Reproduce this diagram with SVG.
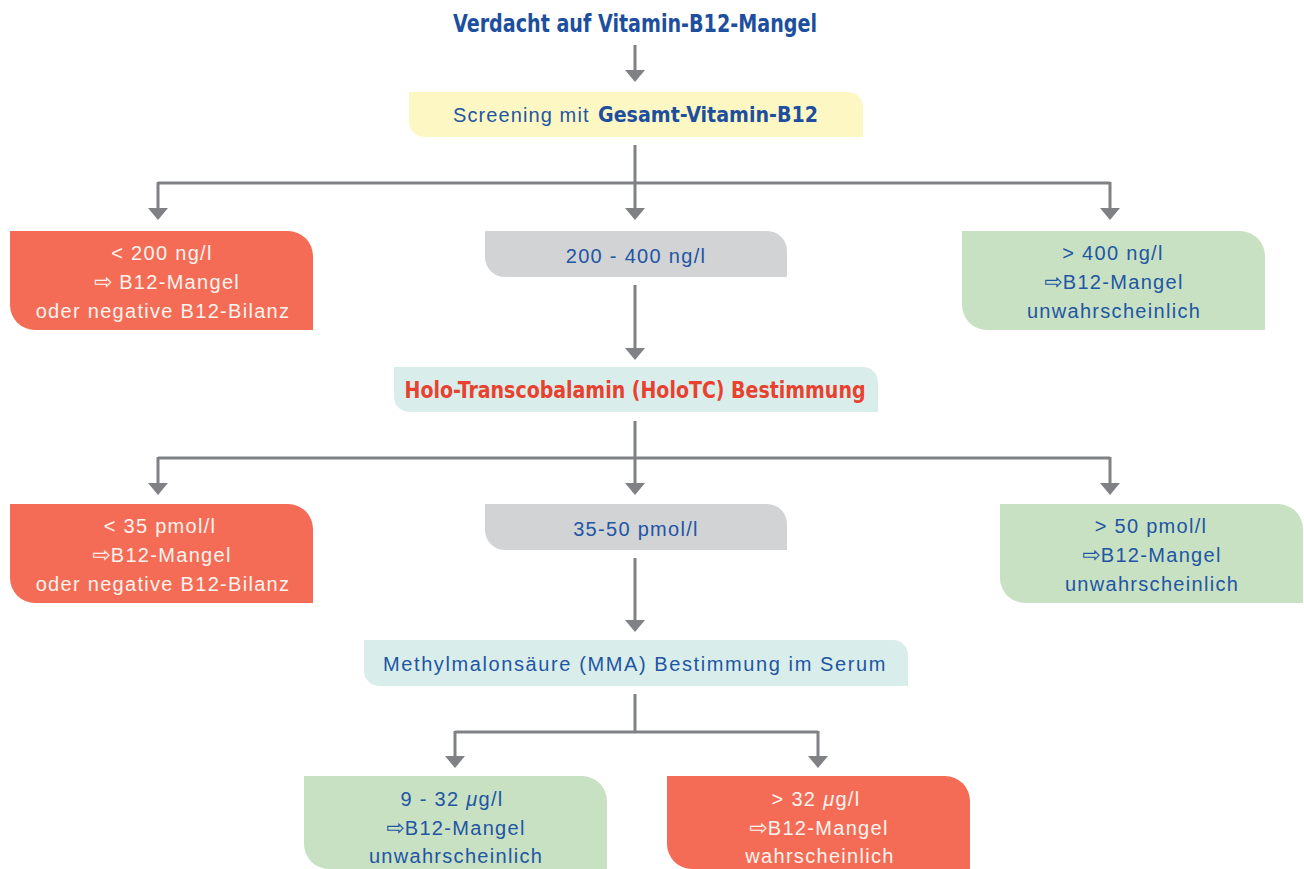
<svg xmlns="http://www.w3.org/2000/svg" width="1304" height="869" viewBox="0 0 1304 869">
<defs>
<style>
.t{font-family:"Liberation Sans",Arial,sans-serif;font-size:20px;letter-spacing:1.3px;text-anchor:middle}
.ar{font-family:"DejaVu Sans",sans-serif;font-size:22px;letter-spacing:0}
.b{font-family:"DejaVu Sans Condensed","DejaVu Sans",sans-serif;font-weight:bold}
.blue{fill:#2255a4}
.wh{fill:#fdf3ef}
.red{fill:#f46c55}
.grn{fill:#c8e1c3}
.gry{fill:#d1d3d5}
.yel{fill:#fdf8c3}
.tea{fill:#d9eeeb}
.ln{fill:none;stroke:#808184;stroke-width:3}
.hd{fill:#808184}
</style>
</defs>

<g id="connectors">
<path class="ln" d="M635 45 V72"/>
<path class="hd" d="M625 70 H645 L635 82 Z"/>
<path class="ln" d="M635 145 V183 M158 183 H1110 M158 182 V209 M635 183 V209 M1110 182 V209"/>
<path class="hd" d="M148 208 H168 L158 220 Z M625 208 H645 L635 220 Z M1100 208 H1120 L1110 220 Z"/>
<path class="ln" d="M635 285 V349"/>
<path class="hd" d="M625 348 H645 L635 360 Z"/>
<path class="ln" d="M635 421 V458 M158 458 H1110 M158 457 V484 M635 458 V484 M1110 457 V484"/>
<path class="hd" d="M148 483 H168 L158 495 Z M625 483 H645 L635 495 Z M1100 483 H1120 L1110 495 Z"/>
<path class="ln" d="M635 558 V621"/>
<path class="hd" d="M625 620 H645 L635 632 Z"/>
<path class="ln" d="M635 694 V732 M455 732 H818 M455 731 V757 M818 731 V757"/>
<path class="hd" d="M445 756 H465 L455 768 Z M808 756 H828 L818 768 Z"/>
</g>

<g id="title">
<text class="b" x="635" y="32" font-size="24" text-anchor="middle" fill="#1d4f9e" textLength="364" lengthAdjust="spacingAndGlyphs">Verdacht auf Vitamin-B12-Mangel</text>
</g>

<g id="screening">
<path class="yel" d="M409 92 H848 A15 15 0 0 1 863 107 V137 H424 A15 15 0 0 1 409 122 Z"/>
<text class="blue" y="122" font-family="Liberation Sans,Arial,sans-serif" font-size="20" letter-spacing="1.1"><tspan x="453">Screening mit</tspan><tspan class="b" x="598" font-size="22" fill="#1d4f9e" letter-spacing="0" textLength="220" lengthAdjust="spacingAndGlyphs">Gesamt-Vitamin-B12</tspan></text>
</g>

<g id="n200low">
<path class="red" d="M10 231 H288 A25 25 0 0 1 313 256 V330 H35 A25 25 0 0 1 10 305 Z"/>
<text class="t wh" x="162" y="260">&lt; 200 ng/l</text>
<text class="t wh" x="167" y="289"><tspan class="ar">⇨</tspan> B12-Mangel</text>
<text class="t wh" x="163" y="318">oder negative B12-Bilanz</text>
</g>

<g id="n200mid">
<path class="gry" d="M485 231 H767 A20 20 0 0 1 787 251 V277 H505 A20 20 0 0 1 485 257 Z"/>
<text class="t blue" x="636" y="263">200 - 400 ng/l</text>
</g>

<g id="n400high">
<path class="grn" d="M962 231 H1240 A25 25 0 0 1 1265 256 V330 H987 A25 25 0 0 1 962 305 Z"/>
<text class="t blue" x="1113" y="260">&gt; 400 ng/l</text>
<text class="t blue" x="1114" y="289"><tspan class="ar">⇨</tspan>B12-Mangel</text>
<text class="t blue" x="1114" y="318">unwahrscheinlich</text>
</g>

<g id="holotc">
<path class="tea" d="M394 367 H863 A15 15 0 0 1 878 382 V412 H409 A15 15 0 0 1 394 397 Z"/>
<text class="b" x="635" y="398" font-size="23" text-anchor="middle" fill="#e8412f" textLength="461" lengthAdjust="spacingAndGlyphs">Holo-Transcobalamin (HoloTC) Bestimmung</text>
</g>

<g id="n35low">
<path class="red" d="M10 504 H288 A25 25 0 0 1 313 529 V603 H35 A25 25 0 0 1 10 578 Z"/>
<text class="t wh" x="160" y="533">&lt; 35 pmol/l</text>
<text class="t wh" x="162" y="562"><tspan class="ar">⇨</tspan>B12-Mangel</text>
<text class="t wh" x="163" y="591">oder negative B12-Bilanz</text>
</g>

<g id="n35mid">
<path class="gry" d="M485 504 H767 A20 20 0 0 1 787 524 V550 H505 A20 20 0 0 1 485 530 Z"/>
<text class="t blue" x="636" y="536">35-50 pmol/l</text>
</g>

<g id="n50high">
<path class="grn" d="M1000 504 H1278 A25 25 0 0 1 1303 529 V603 H1025 A25 25 0 0 1 1000 578 Z"/>
<text class="t blue" x="1151" y="533">&gt; 50 pmol/l</text>
<text class="t blue" x="1152" y="562"><tspan class="ar">⇨</tspan>B12-Mangel</text>
<text class="t blue" x="1152" y="591">unwahrscheinlich</text>
</g>

<g id="mma">
<path class="tea" d="M364 640 H893 A15 15 0 0 1 908 655 V686 H379 A15 15 0 0 1 364 671 Z"/>
<text class="t blue" x="635" y="671" style="letter-spacing:1.6px">Methylmalonsäure (MMA) Bestimmung im Serum</text>
</g>

<g id="mmalow">
<path class="grn" d="M304 776 H582 A25 25 0 0 1 607 801 V869 H329 A25 25 0 0 1 304 844 Z"/>
<text class="t blue" x="452" y="806">9 - 32 <tspan font-style="italic">μ</tspan>g/l</text>
<text class="t blue" x="456" y="835"><tspan class="ar">⇨</tspan>B12-Mangel</text>
<text class="t blue" x="456" y="863">unwahrscheinlich</text>
</g>

<g id="mmahigh">
<path class="red" d="M667 776 H945 A25 25 0 0 1 970 801 V869 H692 A25 25 0 0 1 667 844 Z"/>
<text class="t wh" x="816" y="806">&gt; 32 <tspan font-style="italic">μ</tspan>g/l</text>
<text class="t wh" x="819" y="835"><tspan class="ar">⇨</tspan>B12-Mangel</text>
<text class="t wh" x="820" y="863">wahrscheinlich</text>
</g>
</svg>
